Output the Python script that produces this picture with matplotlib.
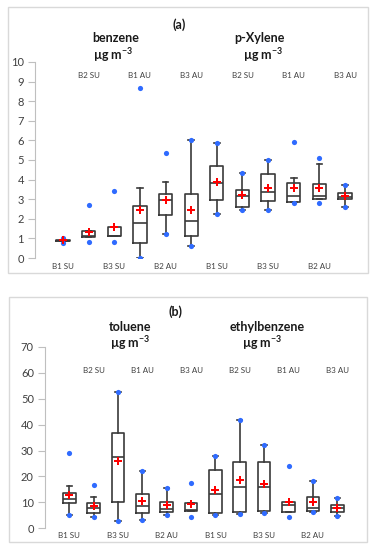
import matplotlib
matplotlib.use("Agg")
import matplotlib.pyplot as plt
from matplotlib.patches import Rectangle
import matplotlib.transforms as mtransforms

plt.rcParams['font.family'] = ['Lato', 'DejaVu Sans']
plt.rcParams['mathtext.fontset'] = 'custom'
plt.rcParams['mathtext.rm'] = 'Lato'
plt.rcParams['mathtext.bf'] = 'Lato:bold'

# ---------------- data ----------------
sites = ['B1 SU', 'B2 SU', 'B3 SU', 'B1 AU', 'B2 AU', 'B3 AU']
categories = sites + sites

# Panel (a): benzene (first 6) and p-Xylene (last 6), ug m-3
a_q1 = [0.85, 1.09, 1.10, 0.75, 2.18, 1.10, 2.98, 2.59, 2.91, 2.86, 3.01, 2.99]
a_med = [0.88, 1.13, 1.12, 1.78, 2.94, 1.90, 3.83, 3.15, 3.37, 3.15, 3.16, 3.12]
a_q3 = [0.93, 1.38, 1.59, 2.66, 3.25, 3.25, 4.68, 3.47, 4.30, 3.81, 3.77, 3.32]
a_mean = [0.90, 1.34, 1.60, 2.44, 2.94, 2.47, 3.90, 3.20, 3.58, 3.56, 3.56, 3.16]
a_wlo = [0.85, 1.09, 1.10, 0.00, 1.25, 0.63, 2.27, 2.45, 2.45, 2.86, 3.01, 2.62]
a_whi = [0.93, 1.38, 1.59, 3.55, 3.89, 6.02, 5.85, 4.32, 5.00, 4.07, 4.80, 3.72]
a_min = [0.78, 0.83, 0.82, 0.00, 1.25, 0.63, 2.27, 2.45, 2.45, 2.82, 2.79, 2.62]
a_max = [1.02, 2.70, 3.43, 8.65, 5.34, 6.02, 5.85, 4.32, 5.00, 5.90, 5.10, 3.72]

# Panel (b): toluene (first 6) and ethylbenzene (last 6), ug m-3
b_q1 = [9.9, 6.0, 10.0, 5.8, 6.3, 6.7, 6.0, 6.4, 6.7, 6.4, 6.7, 6.3]
b_med = [11.3, 7.7, 27.4, 8.6, 7.45, 7.2, 13.1, 16.1, 15.8, 9.0, 8.0, 7.7]
b_q3 = [13.7, 9.65, 36.7, 13.1, 10.0, 9.9, 22.5, 25.5, 25.5, 10.3, 12.0, 9.1]
b_mean = [12.9, 8.6, 26.0, 10.7, 9.0, 9.25, 14.7, 18.5, 17.1, 10.0, 10.0, 7.95]
b_wlo = [5.0, 4.5, 2.8, 3.2, 5.1, 6.7, 5.0, 5.4, 5.8, 6.4, 6.3, 4.9]
b_whi = [16.3, 12.0, 52.5, 22.2, 15.7, 9.9, 27.9, 41.8, 32.0, 10.3, 18.4, 11.7]
b_min = [5.0, 4.5, 2.8, 3.2, 5.1, 4.5, 5.0, 5.4, 5.8, 4.2, 6.3, 4.9]
b_max = [29.0, 16.7, 52.5, 22.2, 15.7, 17.4, 27.9, 41.8, 32.0, 24.1, 18.4, 11.7]

a_yticks = [0, 1, 2, 3, 4, 5, 6, 7, 8, 9, 10]
b_yticks = [0, 10, 20, 30, 40, 50, 60, 70]

# ---------------- figure ----------------
fig = plt.figure(figsize=(3.75, 5.5), dpi=100)
fig.patch.set_facecolor('white')

frame_col = '#d9d9d9'
fig.patches.append(Rectangle((0.0213, 0.5036), 0.96, 0.4836, transform=fig.transFigure,
                             fill=False, edgecolor=frame_col, linewidth=1.0))
fig.patches.append(Rectangle((0.024, 0.0145), 0.9547, 0.4455, transform=fig.transFigure,
                             fill=False, edgecolor=frame_col, linewidth=1.0))

box_col = '#3a3a3a'
dot_col = '#2f6bff'


def draw_panel(ax, q1, med, q3, mean, wlo, whi, mn, mx, ylim, yticks, xlim,
               top_frac, bot_frac):
    n = len(q1)
    pos = list(range(1, n + 1))
    stats = []
    for i in range(n):
        stats.append(dict(q1=q1[i], med=med[i], q3=q3[i], mean=mean[i],
                          whislo=wlo[i], whishi=whi[i], fliers=[]))
    ax.bxp(stats, positions=pos, widths=0.52, capwidths=0.22, showmeans=False,
           showfliers=False,
           boxprops=dict(color=box_col, linewidth=1.2),
           medianprops=dict(color=box_col, linewidth=1.2),
           whiskerprops=dict(color=box_col, linewidth=1.2),
           capprops=dict(color=box_col, linewidth=1.2))
    ax.scatter(pos, mn, s=14, color=dot_col, zorder=4, linewidths=0)
    ax.scatter(pos, mx, s=14, color=dot_col, zorder=4, linewidths=0)
    ax.scatter(pos, mean, marker='P', s=34, color='red', zorder=5, linewidths=0)

    ax.set_xlim(*xlim)
    ax.set_ylim(*ylim)
    ax.set_yticks(yticks)
    ax.set_xticks([])
    for s in ['top', 'right', 'bottom']:
        ax.spines[s].set_visible(False)
    ax.spines['left'].set_color('#bfbfbf')
    ax.spines['left'].set_linewidth(0.8)
    ax.tick_params(axis='y', direction='out', length=5, width=0.8, color='#bfbfbf',
                   labelsize=8, labelcolor='#404040', pad=3)
    ax.patch.set_alpha(0)

    trans = mtransforms.blended_transform_factory(ax.transData, ax.transAxes)
    for i, lab in enumerate(categories):
        if i % 2 == 0:
            ax.text(pos[i], bot_frac, lab, transform=trans, ha='center', va='center',
                    fontsize=5.8, color='#404040')
        else:
            ax.text(pos[i], top_frac, lab, transform=trans, ha='center', va='center',
                    fontsize=5.8, color='#404040')


ax_a = fig.add_axes([0.0933, 0.5309, 0.8667, 0.3564])
draw_panel(ax_a, a_q1, a_med, a_q3, a_mean, a_wlo, a_whi, a_min, a_max,
           (0, 10), a_yticks, (-0.092, 12.585), 0.929, -0.041)

ax_b = fig.add_axes([0.12, 0.03945, 0.8267, 0.3297])
draw_panel(ax_b, b_q1, b_med, b_q3, b_mean, b_wlo, b_whi, b_min, b_max,
           (0, 70), b_yticks, (0.0025, 12.73), 0.869, -0.037)

tkw = dict(ha='center', va='center', fontsize=9, fontweight='bold', color='#1a1a1a')
unit = r'µg m$^{\mathbf{-3}}$'
fig.text(0.477, 0.9545, '(a)', **tkw)
fig.text(0.309, 0.931, 'benzene', **tkw)
fig.text(0.301, 0.900, unit, **tkw)
fig.text(0.691, 0.931, 'p-Xylene', **tkw)
fig.text(0.701, 0.900, unit, **tkw)

fig.text(0.469, 0.4327, '(b)', **tkw)
fig.text(0.347, 0.4055, 'toluene', **tkw)
fig.text(0.347, 0.377, unit, **tkw)
fig.text(0.712, 0.4055, 'ethylbenzene', **tkw)
fig.text(0.699, 0.376, unit, **tkw)

fig.savefig('out.png', dpi=100)
